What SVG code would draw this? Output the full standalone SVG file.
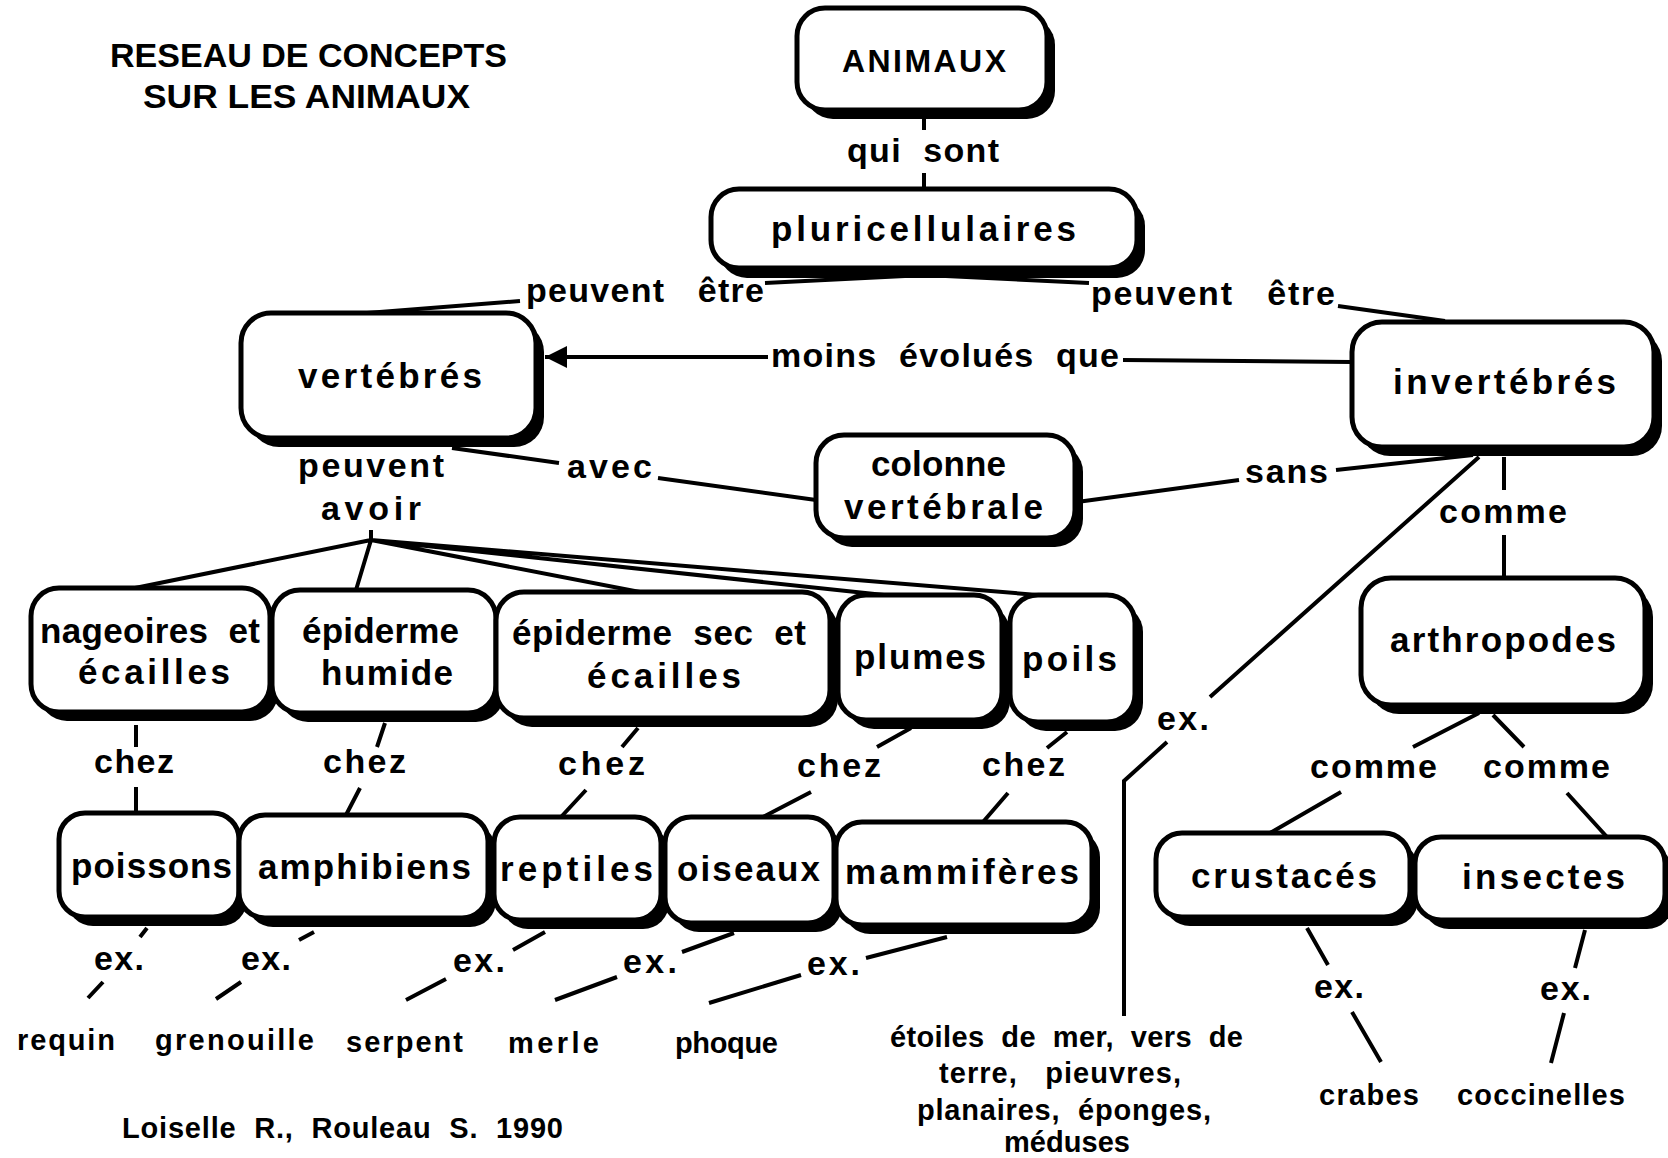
<svg xmlns="http://www.w3.org/2000/svg" width="1668" height="1158" viewBox="0 0 1668 1158">
  <defs>
    <style>
      .sh { fill: #000; }
      .bx { fill: #fff; stroke: #000; stroke-width: 5; }
      text { font-family: "Liberation Sans", Arial, Helvetica, sans-serif; font-weight: bold; fill: #000; }
      .n { font-size: 35px; }
      .l { font-size: 34px; }
      .e { font-size: 29px; }
      .ttl { font-size: 34px; }
      #connectors path { fill: none; stroke: #000; stroke-width: 4; }
    </style>
    <marker id="arrow" markerUnits="userSpaceOnUse" markerWidth="24" markerHeight="24" refX="22" refY="11" orient="auto">
      <path d="M0,0 L22,11 L0,22 z" fill="#000"/>
    </marker>
  </defs>

  <rect width="1668" height="1158" fill="#fff"/>

  <!-- title and credits -->
  <text class="ttl" x="110" y="67" textLength="397" lengthAdjust="spacingAndGlyphs">RESEAU DE CONCEPTS</text>
  <text class="ttl" x="143" y="108" textLength="327" lengthAdjust="spacingAndGlyphs">SUR LES ANIMAUX</text>
  <text class="e" x="122" y="1138" textLength="441" lengthAdjust="spacing">Loiselle&#160; R.,&#160; Rouleau&#160; S.&#160; 1990</text>

  <!-- connectors and link labels -->
  <g id="connectors">
    <path d="M924,118 V130 M924,173 V189"/>
    <path d="M765,283 L925,275 L1089,283"/>
    <path d="M520,301 L367,313"/>
    <path d="M1338,306 L1445,321"/>
    <path d="M768,357 H545" marker-end="url(#arrow)"/>
    <path d="M1123,360 L1352,362"/>
    <path d="M452,448 L559,463 M658,478 L816,500"/>
    <path d="M1077,502 L1239,480 M1336,470 L1473,455"/>
    <path d="M1479,457 L1210,697 M1167,742 L1124,781 V1016"/>
    <path d="M1504,457 V490 M1504,535 V578"/>
    <path d="M1479,713 L1413,747 M1493,715 L1524,747"/>
    <path d="M1341,792 L1270,833 M1567,793 L1607,837"/>
    <path d="M1307,928 L1328,965 M1352,1012 L1381,1062"/>
    <path d="M1585,930 L1575,968 M1564,1013 L1551,1063"/>
    <path d="M371,530 V540 M371,540 L135,588 M371,540 L356,590 M371,540 L645,593 M371,540 L884,595 M371,540 L1050,596"/>
    <path d="M136,725 V747 M136,787 V813"/>
    <path d="M385,723 L377,747 M360,788 L346,815"/>
    <path d="M638,728 L622,747 M586,790 L561,817"/>
    <path d="M911,728 L877,747 M811,792 L763,817"/>
    <path d="M1067,732 L1047,748 M1008,793 L983,822"/>
    <path d="M147,928 L140,937 M103,982 L88,998"/>
    <path d="M314,932 L299,940 M241,982 L216,999"/>
    <path d="M545,932 L513,950 M446,979 L406,1000"/>
    <path d="M734,933 L682,952 M617,977 L555,1000"/>
    <path d="M947,937 L866,958 M801,975 L709,1003"/>

    <text class="l" x="847" y="162" textLength="152" lengthAdjust="spacing">qui&#160; sont</text>
    <text class="l" x="526" y="302" textLength="238" lengthAdjust="spacing">peuvent&#160;&#160; être</text>
    <text class="l" x="1091" y="305" textLength="244" lengthAdjust="spacing">peuvent&#160;&#160; être</text>
    <text class="l" x="771" y="367" textLength="348" lengthAdjust="spacing">moins&#160; évolués&#160; que</text>
    <text class="l" x="298" y="477" textLength="146" lengthAdjust="spacing">peuvent</text>
    <text class="l" x="321" y="520" textLength="100" lengthAdjust="spacing">avoir</text>
    <text class="l" x="567" y="478" textLength="85" lengthAdjust="spacing">avec</text>
    <text class="l" x="1245" y="483" textLength="83" lengthAdjust="spacing">sans</text>
    <text class="l" x="1439" y="523" textLength="128" lengthAdjust="spacing">comme</text>
    <text class="l" x="1157" y="730" textLength="52" lengthAdjust="spacing">ex.</text>
    <text class="l" x="1310" y="778" textLength="127" lengthAdjust="spacing">comme</text>
    <text class="l" x="1483" y="778" textLength="127" lengthAdjust="spacing">comme</text>
    <text class="l" x="1314" y="998" textLength="50" lengthAdjust="spacing">ex.</text>
    <text class="l" x="1540" y="1000" textLength="51" lengthAdjust="spacing">ex.</text>
    <text class="l" x="94" y="773" textLength="80" lengthAdjust="spacing">chez</text>
    <text class="l" x="323" y="773" textLength="83" lengthAdjust="spacing">chez</text>
    <text class="l" x="558" y="775" textLength="87" lengthAdjust="spacing">chez</text>
    <text class="l" x="797" y="777" textLength="84" lengthAdjust="spacing">chez</text>
    <text class="l" x="982" y="776" textLength="83" lengthAdjust="spacing">chez</text>
    <text class="l" x="94" y="970" textLength="50" lengthAdjust="spacing">ex.</text>
    <text class="l" x="241" y="970" textLength="50" lengthAdjust="spacing">ex.</text>
    <text class="l" x="453" y="972" textLength="52" lengthAdjust="spacing">ex.</text>
    <text class="l" x="623" y="973" textLength="54" lengthAdjust="spacing">ex.</text>
    <text class="l" x="807" y="975" textLength="53" lengthAdjust="spacing">ex.</text>
  </g>

  <!-- example leaves -->
  <g id="examples">
    <text class="e" x="17" y="1050" textLength="98" lengthAdjust="spacing">requin</text>
    <text class="e" x="155" y="1050" textLength="159" lengthAdjust="spacing">grenouille</text>
    <text class="e" x="346" y="1052" textLength="117" lengthAdjust="spacing">serpent</text>
    <text class="e" x="508" y="1053" textLength="91" lengthAdjust="spacing">merle</text>
    <text class="e" x="675" y="1053" textLength="103" lengthAdjust="spacing">phoque</text>
    <text class="e" x="1319" y="1105" textLength="100" lengthAdjust="spacing">crabes</text>
    <text class="e" x="1457" y="1105" textLength="168" lengthAdjust="spacing">coccinelles</text>
    <text class="e" x="890" y="1047" textLength="353" lengthAdjust="spacing">étoiles&#160; de&#160; mer,&#160; vers&#160; de</text>
    <text class="e" x="939" y="1083" textLength="242" lengthAdjust="spacing">terre,&#160;&#160; pieuvres,</text>
    <text class="e" x="917" y="1120" textLength="294" lengthAdjust="spacing">planaires,&#160; éponges,</text>
    <text class="e" x="1004" y="1152" textLength="126" lengthAdjust="spacing">méduses</text>
  </g>

  <!-- concept nodes -->
  <g id="animaux">
    <rect class="sh" x="805" y="17" width="250" height="102" rx="28"/>
    <rect class="bx" x="797" y="8" width="250" height="102" rx="28"/>
    <text x="842" y="72" font-size="32" textLength="164" lengthAdjust="spacing">ANIMAUX</text>
  </g>
  <g id="pluricellulaires">
    <rect class="sh" x="719" y="198" width="426" height="80" rx="28"/>
    <rect class="bx" x="711" y="189" width="426" height="79" rx="28"/>
    <text class="n" x="771" y="241" textLength="305" lengthAdjust="spacing">pluricellulaires</text>
  </g>
  <g id="vertebres">
    <rect class="sh" x="249" y="322" width="295" height="125" rx="30"/>
    <rect class="bx" x="241" y="313" width="295" height="125" rx="30"/>
    <text class="n" x="298" y="388" textLength="184" lengthAdjust="spacing">vertébrés</text>
  </g>
  <g id="invertebres">
    <rect class="sh" x="1360" y="331" width="302" height="125" rx="30"/>
    <rect class="bx" x="1352" y="322" width="302" height="125" rx="30"/>
    <text class="n" x="1393" y="394" textLength="223" lengthAdjust="spacing">invertébrés</text>
  </g>
  <g id="colonne">
    <rect class="sh" x="824" y="444" width="259" height="103" rx="28"/>
    <rect class="bx" x="816" y="435" width="259" height="103" rx="28"/>
    <text class="n" x="871" y="476" textLength="135" lengthAdjust="spacing">colonne</text>
    <text class="n" x="844" y="519" textLength="199" lengthAdjust="spacing">vertébrale</text>
  </g>
  <g id="arthropodes">
    <rect class="sh" x="1369" y="587" width="284" height="127" rx="30"/>
    <rect class="bx" x="1361" y="578" width="284" height="127" rx="30"/>
    <text class="n" x="1390" y="652" textLength="226" lengthAdjust="spacing">arthropodes</text>
  </g>
  <g id="nageoires">
    <rect class="sh" x="39" y="597" width="239" height="124" rx="28"/>
    <rect class="bx" x="31" y="588" width="239" height="124" rx="28"/>
    <text class="n" x="40" y="643" textLength="220" lengthAdjust="spacing">nageoires&#160; et</text>
    <text class="n" x="78" y="684" textLength="152" lengthAdjust="spacing">écailles</text>
  </g>
  <g id="epiderme-humide">
    <rect class="sh" x="280" y="599" width="224" height="123" rx="28"/>
    <rect class="bx" x="272" y="590" width="224" height="123" rx="28"/>
    <text class="n" x="302" y="643" textLength="157" lengthAdjust="spacing">épiderme</text>
    <text class="n" x="321" y="685" textLength="132" lengthAdjust="spacing">humide</text>
  </g>
  <g id="epiderme-sec">
    <rect class="sh" x="504" y="601" width="334" height="126" rx="28"/>
    <rect class="bx" x="496" y="592" width="334" height="126" rx="28"/>
    <text class="n" x="512" y="645" textLength="294" lengthAdjust="spacing">épiderme&#160; sec&#160; et</text>
    <text class="n" x="587" y="688" textLength="154" lengthAdjust="spacing">écailles</text>
  </g>
  <g id="plumes">
    <rect class="sh" x="846" y="604" width="164" height="125" rx="28"/>
    <rect class="bx" x="838" y="595" width="164" height="125" rx="28"/>
    <text class="n" x="854" y="669" textLength="132" lengthAdjust="spacing">plumes</text>
  </g>
  <g id="poils">
    <rect class="sh" x="1018" y="604" width="125" height="127" rx="28"/>
    <rect class="bx" x="1010" y="595" width="125" height="127" rx="28"/>
    <text class="n" x="1022" y="671" textLength="95" lengthAdjust="spacing">poils</text>
  </g>
  <g id="poissons">
    <rect class="sh" x="67" y="822" width="180" height="104" rx="26"/>
    <rect class="bx" x="59" y="813" width="180" height="104" rx="26"/>
    <text class="n" x="71" y="878" textLength="161" lengthAdjust="spacing">poissons</text>
  </g>
  <g id="amphibiens">
    <rect class="sh" x="247" y="824" width="249" height="103" rx="26"/>
    <rect class="bx" x="239" y="815" width="249" height="103" rx="26"/>
    <text class="n" x="258" y="879" textLength="213" lengthAdjust="spacing">amphibiens</text>
  </g>
  <g id="reptiles">
    <rect class="sh" x="502" y="826" width="167" height="103" rx="26"/>
    <rect class="bx" x="494" y="817" width="167" height="103" rx="26"/>
    <text class="n" x="500" y="881" textLength="153" lengthAdjust="spacing">reptiles</text>
  </g>
  <g id="oiseaux">
    <rect class="sh" x="673" y="826" width="169" height="106" rx="26"/>
    <rect class="bx" x="665" y="817" width="169" height="106" rx="26"/>
    <text class="n" x="677" y="881" textLength="143" lengthAdjust="spacing">oiseaux</text>
  </g>
  <g id="mammiferes">
    <rect class="sh" x="844" y="831" width="256" height="103" rx="26"/>
    <rect class="bx" x="836" y="822" width="256" height="103" rx="26"/>
    <text class="n" x="845" y="884" textLength="234" lengthAdjust="spacing">mammifères</text>
  </g>
  <g id="crustaces">
    <rect class="sh" x="1164" y="842" width="254" height="84" rx="26"/>
    <rect class="bx" x="1156" y="833" width="254" height="84" rx="26"/>
    <text class="n" x="1191" y="888" textLength="186" lengthAdjust="spacing">crustacés</text>
  </g>
  <g id="insectes">
    <rect class="sh" x="1423" y="846" width="250" height="83" rx="26"/>
    <rect class="bx" x="1415" y="837" width="250" height="83" rx="26"/>
    <text class="n" x="1462" y="889" textLength="163" lengthAdjust="spacing">insectes</text>
  </g>
</svg>
